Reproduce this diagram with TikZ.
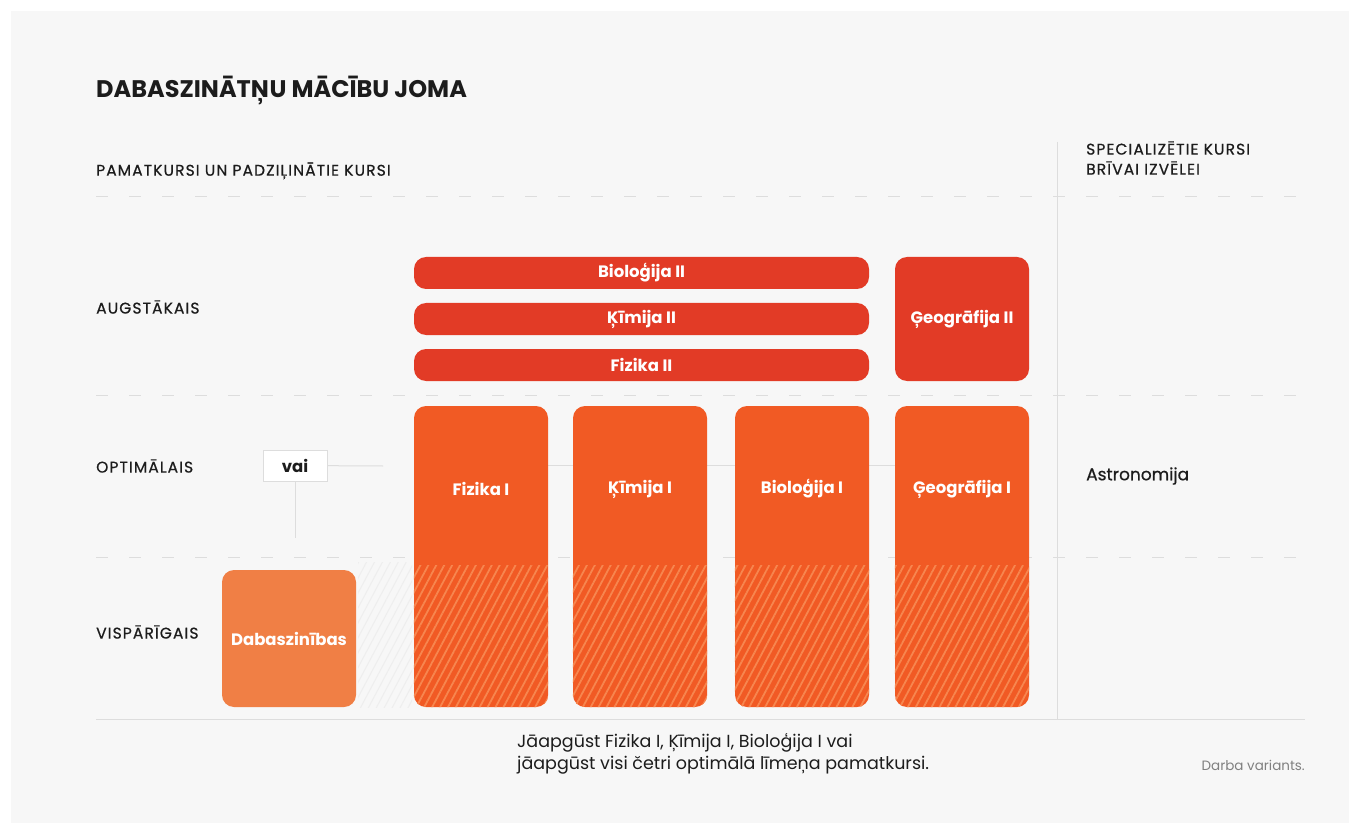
\documentclass[tikz,border=0pt]{standalone}
\usepackage{fontspec}
\setmainfont{Poppins}
\usetikzlibrary{positioning,patterns.meta,backgrounds}

\definecolor{panel}{HTML}{F7F7F7}
\definecolor{ink}{HTML}{1C1C1C}
\definecolor{rulegray}{HTML}{DDDDDD}
\definecolor{redbox}{HTML}{E23B26}
\definecolor{orangebox}{HTML}{F15A24}
\definecolor{lightorange}{HTML}{F07F45}
\definecolor{stripe}{HTML}{F7864F}

\tikzset{
  head/.style={font=\fontsize{24}{28}\selectfont\bfseries, text=ink, inner sep=0},
  caption/.style={font=\fontsize{15.5}{20}\selectfont\addfontfeatures{FakeBold=0.6,LetterSpace=7}, text=ink, inner sep=0},
  rowlabel/.style={caption, anchor=west},
  course/.style={draw=none, rounded corners=12pt, text=white,
    font=\fontsize{16.5}{19}\selectfont\bfseries, inner sep=0},
  bar/.style={course, fill=redbox, minimum width=455pt, minimum height=32pt},
  colbox/.style={course, fill=orangebox, minimum width=134pt, minimum height=301pt},
  vaibox/.style={draw=rulegray, fill=white, minimum width=64pt, minimum height=31pt,
    inner sep=0, font=\fontsize{16.5}{19}\selectfont\bfseries, text=ink},
  conn/.style={draw=rulegray, line width=1pt},
  dashline/.style={draw=rulegray, line width=1pt, dash pattern=on 12pt off 21pt},
  hatch/.style={pattern={Lines[angle=62, distance=7pt, line width=1.8pt]}, pattern color=stripe}
}

\begin{document}
\begin{tikzpicture}[x=1pt, y=-1pt]
\useasboundingbox (0,0) rectangle (1360,834);

% grid of levels
\draw[dashline] (96,197) -- (1305,197);
\draw[dashline] (96,395) -- (1305,395);
\draw[dashline] (96,557) -- (1305,557);
\draw[conn] (96,719) -- (1305,719);
\draw[conn] (1057,142) -- (1057,720);

% headings
\node[head, anchor=base west] (title) at (96,98) {DABASZINĀTŅU MĀCĪBU JOMA};
\node[caption, anchor=west] (pamat) at (96,171) {PAMATKURSI UN PADZIĻINĀTIE KURSI};
\node[caption, anchor=west, align=left] (spec) at (1086,158) {SPECIALIZĒTIE KURSI\\BRĪVAI IZVĒLEI};

\node[rowlabel] (augst) at (96,307) {AUGSTĀKAIS};
\node[rowlabel] (optim) at (96,466) {OPTIMĀLAIS};
\node[rowlabel] (vispa) at (96,632) {VISPĀRĪGAIS};

% augstakais
\node[bar] (bio2) at (641.5,273) {Bioloģija II};
\node[bar] (kim2) at (641.5,319) {Ķīmija II};
\node[bar] (fiz2) at (641.5,365) {Fizika II};
\node[course, fill=redbox, minimum width=134pt, minimum height=124pt] (geo2) at (962,319) {Ģeogrāfija II};

% optimalais + visparigais
\foreach \name/\x/\txt in {fiz1/481/Fizika I, kim1/640/Ķīmija I, bio1/802/Bioloģija I, geo1/962/Ģeogrāfija I}{
  \node[colbox, label={[course, yshift=67.5pt]center:\txt}] (\name) at (\x,556.5) {};
  \begin{scope}
    \clip (\x-70,565) rectangle (\x+70,712);
    \fill[hatch, rounded corners=12pt] (\name.north west) rectangle (\name.south east);
  \end{scope}
}

\fill[pattern={Lines[angle=62, distance=7pt, line width=1pt]}, pattern color=rulegray!50]
  (358,562) rectangle (412,707);
\node[course, fill=lightorange, minimum width=134pt, minimum height=137pt] (dabas) at (289,638.5) {Dabaszinības};

% vai
\node[vaibox] (vai) at (295,465.5) {vai};
\coordinate (vaiE) at (383,466);
\coordinate (vaiS) at (295,538);
\draw[conn] (vai) -- (vaiE);
\draw[conn] (vai) -- (vaiS);

% specializetie
\node[font=\fontsize{17}{20}\selectfont\addfontfeatures{FakeBold=0.6}, text=ink, inner sep=0, anchor=west] (astro) at (1086,476) {Astronomija};

% notes
\node[font=\fontsize{17.5}{22}\selectfont, text=ink, inner sep=0, anchor=north west, align=left] (note) at (517,733)
  {Jāapgūst Fizika I, Ķīmija I, Bioloģija I vai\\jāapgūst visi četri optimālā līmeņa pamatkursi.};
\node[font=\fontsize{13.5}{16}\selectfont, text=black!50, inner sep=0, anchor=east] (credit) at (1305,765) {Darba variants.};

\begin{scope}[on background layer]
\fill[white] (0,0) rectangle (1360,834);
\fill[panel] (11,11) rectangle (1349,823);
\draw[conn] (vai.east -| fiz1.east) -- (vai.east -| geo1.west);
\end{scope}
\end{tikzpicture}
\end{document}
